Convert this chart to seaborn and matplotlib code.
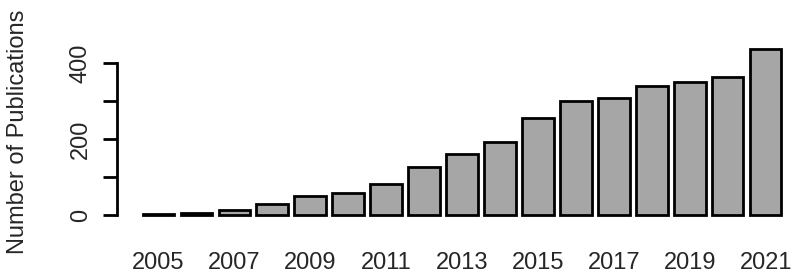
import pandas as pd
import seaborn as sns
import matplotlib.pyplot as plt

# publicaciones por año
years = ['2005', '2006', '2007', '2008', '2009', '2010', '2011', '2012', '2013',
         '2014', '2015', '2016', '2017', '2018', '2019', '2020', '2021']
counts = [2, 6, 13, 28, 50, 59, 81, 127, 160, 191, 256, 300, 309, 339, 349, 362, 437]

df = pd.DataFrame({'Year': years, 'Publications': counts})

sns.set_style('white')
plt.rcParams['font.family'] = ['Liberation Sans', 'DejaVu Sans']

fig = plt.figure(figsize=(7.96, 2.79), dpi=100)
ax = fig.add_axes([0.1466, 0.206, 0.8534, 0.643])

sns.barplot(data=df, x='Year', y='Publications', color='#a6a6a6', saturation=1,
            edgecolor='black', linewidth=2, width=0.833, ax=ax)

ax.set_xlim(-1.10, 16.80)
ax.set_ylim(-17, 455)

for s in ['top', 'right', 'bottom']:
    ax.spines[s].set_visible(False)
ax.spines['left'].set_bounds(0, 400)
ax.spines['left'].set_linewidth(2)
ax.spines['left'].set_color('black')

ax.set_yticks([0, 100, 200, 300, 400])
ax.set_yticklabels(['0', '', '200', '', '400'], rotation=90, va='center')
ax.set_xticks(range(0, len(years), 2))
ax.set_xticklabels(years[::2])

ax.tick_params(axis='y', length=10, width=2, color='black', labelsize=17, pad=8, left=True)
ax.tick_params(axis='x', length=0, labelsize=17, pad=22)

ax.set_xlabel('')
ax.set_ylabel('Number of Publications', fontsize=17)
ax.yaxis.label.set_va('center')
ax.yaxis.set_label_coords(-0.146, 0.5)

plt.savefig('out.png', dpi=100)
